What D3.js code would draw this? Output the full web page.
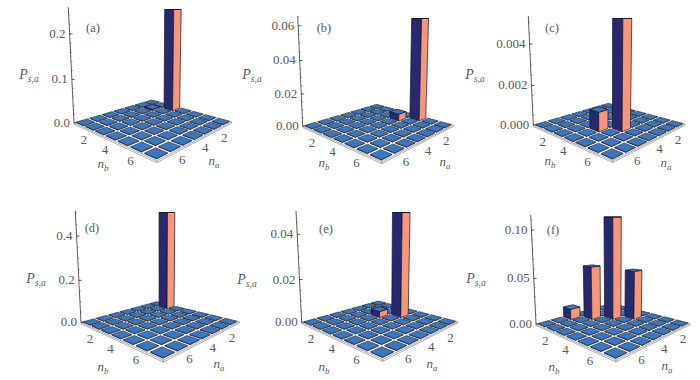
<!DOCTYPE html>
<html>
<head>
<meta charset="utf-8">
<script src="https://cdn.jsdelivr.net/npm/d3@7"></script>
<style>
html, body { margin: 0; padding: 0; background: #fff; }
text { font-family: "Liberation Serif", serif; fill: #5a5a5a; }
</style>
</head>
<body>
<svg id="chart" width="700" height="380"></svg>
<script>
// values, rows are n_b = 1..7, columns are n_a = 1..7
var valuesA = [
    [0, 0, 0, 0, 0, 0, 0],
    [0, 0.004, 0, 0, 0, 0, 0],
    [0.6, 0, 0, 0, 0, 0, 0],
    [0, 0, 0, 0, 0, 0, 0],
    [0, 0, 0, 0, 0, 0, 0],
    [0, 0, 0, 0, 0, 0, 0],
    [0, 0, 0, 0, 0, 0, 0]
];
var valuesB = [
    [0, 0, 0, 0, 0, 0, 0],
    [0, 0, 0, 0, 0, 0, 0],
    [0, 0, 0, 0, 0, 0, 0],
    [0, 0.0045, 0, 0, 0, 0, 0],
    [0.09, 0, 0, 0, 0, 0, 0],
    [0, 0, 0, 0, 0, 0, 0],
    [0, 0, 0, 0, 0, 0, 0]
];
var valuesC = [
    [0, 0, 0, 0, 0, 0, 0],
    [0, 0, 0, 0, 0, 0, 0],
    [0, 0, 0, 0, 0, 0, 0],
    [0, 0, 0, 0, 0.00095, 0, 0],
    [0, 0, 0, 0.009, 0, 0, 0],
    [0, 0, 0, 0, 0, 0, 0],
    [0, 0, 0, 0, 0, 0, 0]
];
var valuesD = [
    [0, 0, 0, 0, 0, 0, 0],
    [0.8, 0, 0, 0, 0, 0, 0],
    [0, 0, 0, 0, 0, 0, 0],
    [0, 0, 0, 0, 0, 0, 0],
    [0, 0, 0, 0, 0, 0, 0],
    [0, 0, 0, 0, 0, 0, 0],
    [0, 0, 0, 0, 0, 0, 0]
];
var valuesE = [
    [0, 0, 0, 0, 0, 0, 0],
    [0, 0, 0, 0, 0, 0, 0],
    [0, 0, 0.003, 0, 0, 0, 0],
    [0, 0.08, 0, 0, 0, 0, 0],
    [0, 0, 0, 0, 0, 0, 0],
    [0, 0, 0, 0, 0, 0, 0],
    [0, 0, 0, 0, 0, 0, 0]
];
var valuesF = [
    [0, 0, 0, 0, 0.012, 0, 0],
    [0, 0, 0, 0.06, 0, 0, 0],
    [0, 0, 0.14, 0, 0, 0, 0],
    [0, 0.055, 0, 0, 0, 0, 0],
    [0, 0, 0, 0, 0, 0, 0],
    [0, 0, 0, 0, 0, 0, 0],
    [0, 0, 0, 0, 0, 0, 0]
];

var ticksA = [0, 0.1, 0.2];
var ticksB = [0, 0.02, 0.04, 0.06];
var ticksC = [0, 0.002, 0.004];
var ticksD = [0, 0.2, 0.4];
var ticksE = [0, 0.02, 0.04];
var ticksF = [0, 0.05, 0.10];
var floorTicks = [2, 4, 6];

// where each panel sits on the page
var panels = [
    { name: "(a)", values: valuesA, ticks: ticksA, digits: 1, top: 0.256, minor: 0.02, clipY: 9.5,
      back: [151.7, 100], right: [231.7, 121.7], front: [156.7, 160.7], left: [74, 122.7], axisTop: [68.3, 7.3],
      namePos: [93, 28], pPos: [29, 75], nbPos: [103, 164], naPos: [214, 161] },
    { name: "(b)", values: valuesB, ticks: ticksB, digits: 2, top: 0.0655, minor: 0.005, clipY: 18.5,
      back: [376.7, 104.3], right: [453.3, 125], front: [381.7, 161.7], left: [302.7, 126], axisTop: [297.7, 16],
      namePos: [324, 28], pPos: [252, 75], nbPos: [324, 163], naPos: [445, 162] },
    { name: "(c)", values: valuesC, ticks: ticksC, digits: 3, top: 0.0053, minor: 0.0005, clipY: 18.5,
      back: [608.3, 103.3], right: [685, 124], front: [612.7, 160.7], left: [533.3, 125], axisTop: [528.3, 16],
      namePos: [552, 28], pPos: [475, 75], nbPos: [550, 161], naPos: [666, 163] },
    { name: "(d)", values: valuesD, ticks: ticksD, digits: 1, top: 0.51, minor: 0.05, clipY: 212.5,
      back: [156.7, 301.7], right: [239.3, 321.7], front: [163.3, 360], left: [81, 322.3], axisTop: [75.3, 210.7],
      namePos: [92, 228], pPos: [36, 279], nbPos: [103, 367], naPos: [219, 364] },
    { name: "(e)", values: valuesE, ticks: ticksE, digits: 2, top: 0.05, minor: 0.005, clipY: 212.5,
      back: [378.3, 301], right: [457.7, 321.7], front: [382.7, 359.3], left: [301.7, 322.3], axisTop: [296, 210.7],
      namePos: [326, 229], pPos: [247, 280], nbPos: [324, 367], naPos: [432, 364] },
    { name: "(f)", values: valuesF, ticks: ticksF, digits: 2, top: 0.115, minor: 0.01, clipY: 217,
      back: [611.7, 303.3], right: [690, 323.3], front: [616, 360], left: [536, 324], axisTop: [530.7, 215],
      namePos: [553, 230], pPos: [476, 279], nbPos: [554, 367], naPos: [667, 366] }
];

var svg = d3.select("#chart");
var line = d3.line();
var cellScale = d3.scaleLinear().domain([0.5, 7.5]).range([0, 1]);
var barHalf = 0.4;
var cellHalf = 0.39;
var floorLift = 0.005;

// unit square to quad, u runs back->right (n_b) and v runs back->left (n_a)
function makeCamera(p) {
    var x0 = p.back[0], y0 = p.back[1], x1 = p.right[0], y1 = p.right[1];
    var x2 = p.front[0], y2 = p.front[1], x3 = p.left[0], y3 = p.left[1];
    var dx1 = x1 - x2, dx2 = x3 - x2, sx = x0 - x1 + x2 - x3;
    var dy1 = y1 - y2, dy2 = y3 - y2, sy = y0 - y1 + y2 - y3;
    var den = dx1 * dy2 - dx2 * dy1;
    var g = (sx * dy2 - dx2 * sy) / den;
    var h = (dx1 * sy - sx * dy1) / den;
    var a = x1 - x0 + g * x1, b = x3 - x0 + h * x3;
    var d = y1 - y0 + g * y1, e = y3 - y0 + h * y3;

    // the verticals converge on a point far under the plot
    var vx = (x0 + x2) / 2;
    var s = (vx - x3) / (x3 - p.axisTop[0]);
    var vy = y3 + s * (y3 - p.axisTop[1]);
    var wLeft = h + 1;
    var k = wLeft * (y3 - p.axisTop[1]) / (p.axisTop[1] - vy);

    return function (u, v, z) {
        var w = g * u + h * v + 1;
        var fx = a * u + b * v + x0;
        var fy = d * u + e * v + y0;
        return [(fx + z * k * vx) / (w + z * k), (fy + z * k * vy) / (w + z * k)];
    };
}

function drawBox(g, cam, c, z, clipY) {
    var half = c.val > 0 ? barHalf : cellHalf;
    var u0 = cellScale(c.nb - half), u1 = cellScale(c.nb + half);
    var v0 = cellScale(c.na - half), v1 = cellScale(c.na + half);
    // a bar over the range is cut flat at the top of the plot
    function up(u, v) {
        var q = cam(u, v, z);
        return z >= 1 ? [q[0], clipY] : q;
    }
    var leftFace = [cam(u0, v1, 0), cam(u1, v1, 0), up(u1, v1), up(u0, v1)];
    var rightFace = [cam(u1, v1, 0), cam(u1, v0, 0), up(u1, v0), up(u1, v1)];
    var topFace = [up(u0, v0), up(u1, v0), up(u1, v1), up(u0, v1)];
    var faces = [[leftFace, "#27296f"], [rightFace, "#fa9678"], [topFace, "#3a77c0"]];
    faces.forEach(function (f) {
        g.append("path")
            .attr("d", line(f[0]) + "Z")
            .attr("fill", f[1])
            .attr("stroke", c.val > 0 ? "#15152a" : "#1c2433")
            .attr("stroke-width", c.val > 0 ? 0.7 : 0.55)
            .attr("stroke-linejoin", "round");
    });
}

function drawPanel(p) {
    var g = svg.append("g");
    var cam = makeCamera(p);
    var zScale = d3.scaleLinear().domain([0, p.top]).range([0, 1]).clamp(true);

    // white base plate with a thin front edge
    var under = -0.014;
    g.append("path")
        .attr("d", line([cam(0, 1, 0), cam(1, 1, 0), cam(1, 1, under), cam(0, 1, under)]) + "Z")
        .attr("fill", "#fff").attr("stroke", "#888").attr("stroke-width", 0.7);
    g.append("path")
        .attr("d", line([cam(1, 1, 0), cam(1, 0, 0), cam(1, 0, under), cam(1, 1, under)]) + "Z")
        .attr("fill", "#fff").attr("stroke", "#888").attr("stroke-width", 0.7);
    g.append("path")
        .attr("d", line([cam(0, 0, 0), cam(1, 0, 0), cam(1, 1, 0), cam(0, 1, 0)]) + "Z")
        .attr("fill", "#fff")
        .attr("stroke", "#999")
        .attr("stroke-width", 0.6);

    // painter's order, back cells first
    var cells = [];
    p.values.forEach(function (row, i) {
        row.forEach(function (val, j) {
            cells.push({ nb: i + 1, na: j + 1, val: val });
        });
    });
    cells.sort(function (c1, c2) { return (c1.nb + c1.na) - (c2.nb + c2.na); });
    cells.forEach(function (c) {
        drawBox(g, cam, c, Math.max(zScale(c.val), floorLift), p.clipY);
    });

    // vertical axis
    g.append("path")
        .attr("d", line([cam(0, 1, 0), cam(0, 1, 1)]))
        .attr("fill", "none")
        .attr("stroke", "#333")
        .attr("stroke-width", 0.8);
    d3.range(0, p.top, p.minor).forEach(function (t) {
        var q = cam(0, 1, zScale(t));
        g.append("line")
            .attr("x1", q[0]).attr("y1", q[1])
            .attr("x2", q[0] + 1.5).attr("y2", q[1])
            .attr("stroke", "#444").attr("stroke-width", 0.5);
    });
    p.ticks.forEach(function (t) {
        var q = cam(0, 1, zScale(t));
        g.append("line")
            .attr("x1", q[0]).attr("y1", q[1])
            .attr("x2", q[0] + 3).attr("y2", q[1])
            .attr("stroke", "#333").attr("stroke-width", 0.7);
        g.append("text")
            .attr("x", q[0] - 4).attr("y", q[1] + 4)
            .attr("text-anchor", "end")
            .attr("font-size", 13)
            .text(t.toFixed(p.digits));
    });

    // floor tick labels
    floorTicks.forEach(function (t) {
        var q = cam(cellScale(t), 1, 0);
        g.append("text")
            .attr("x", q[0] - 4).attr("y", q[1] + 15)
            .attr("text-anchor", "middle")
            .attr("font-size", 13)
            .text(t);
        var r = cam(1, cellScale(t), 0);
        g.append("text")
            .attr("x", r[0] + 5).attr("y", r[1] + 14)
            .attr("text-anchor", "middle")
            .attr("font-size", 13)
            .text(t);
    });

    g.append("text")
        .attr("x", p.namePos[0]).attr("y", p.namePos[1] + 4)
        .attr("text-anchor", "middle")
        .attr("font-size", 12.5)
        .text(p.name);

    axisName(g, p.pPos, "P", "s,a", 14);
    axisName(g, p.nbPos, "n", "b", 13);
    axisName(g, p.naPos, "n", "a", 13);
}

function axisName(g, pos, main, sub, size) {
    var t = g.append("text")
        .attr("x", pos[0]).attr("y", pos[1] + 4)
        .attr("text-anchor", "middle")
        .attr("font-size", size)
        .attr("font-style", "italic");
    t.append("tspan").text(main);
    t.append("tspan").attr("dy", 3).attr("font-size", size * 0.68).text(sub);
}

panels.forEach(drawPanel);
</script>
</body>
</html>
